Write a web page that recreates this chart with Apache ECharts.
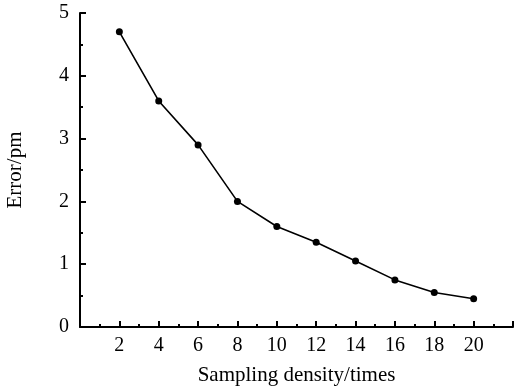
<!DOCTYPE html>
<html>
<head>
<meta charset="utf-8">
<script src="https://cdn.jsdelivr.net/npm/echarts@6/dist/echarts.min.js"></script>
<style>
  html, body { margin: 0; padding: 0; background: #fff; }
  #container { width: 517px; height: 389px; }
</style>
</head>
<body>
<div id="container"></div>
<script>
var samplingDensity = [2, 4, 6, 8, 10, 12, 14, 16, 18, 20];
var errorValues = [4.7, 3.6, 2.9, 2.0, 1.6, 1.35, 1.05, 0.75, 0.55, 0.45];

var chart = echarts.init(document.getElementById('container'));
var font = '"Liberation Serif", "Times New Roman", serif';

var points = samplingDensity.map(function (x, i) { return [x, errorValues[i]]; });

var option = {
  animation: false,
  grid: { left: 80, right: 4, top: 13, bottom: 62, containLabel: false, outerBoundsMode: 'none' },
  xAxis: {
    type: 'value',
    min: 0,
    max: 22,
    interval: 2,
    name: 'Sampling density/times',
    nameLocation: 'middle',
    nameGap: 38,
    nameTextStyle: { fontFamily: font, fontSize: 21, color: '#000' },
    axisLine: { show: true, lineStyle: { color: '#000', width: 2 } },
    axisTick: { show: true, inside: true, length: 6, lineStyle: { color: '#000', width: 2 } },
    minorTick: { show: true, splitNumber: 2, length: 3, lineStyle: { color: '#000', width: 2 } },
    splitLine: { show: false },
    axisLabel: {
      fontFamily: font, fontSize: 20, color: '#000', margin: 9,
      formatter: function (v) { return (v === 0 || v === 22) ? '' : v; }
    }
  },
  yAxis: {
    type: 'value',
    min: 0,
    max: 5,
    interval: 1,
    name: 'Error/pm',
    nameLocation: 'middle',
    nameGap: 54,
    nameTextStyle: { fontFamily: font, fontSize: 21, color: '#000' },
    axisLine: { show: true, lineStyle: { color: '#000', width: 2 } },
    axisTick: { show: true, inside: true, length: 6, lineStyle: { color: '#000', width: 2 } },
    minorTick: { show: true, splitNumber: 2, length: 3, lineStyle: { color: '#000', width: 2 } },
    splitLine: { show: false },
    axisLabel: { fontFamily: font, fontSize: 20, color: '#000', margin: 11 }
  },
  series: [{
    type: 'line',
    data: points,
    symbol: 'circle',
    symbolSize: 7,
    itemStyle: { color: '#000' },
    lineStyle: { color: '#000', width: 1.6 }
  }]
};

chart.setOption(option);
</script>
</body>
</html>
